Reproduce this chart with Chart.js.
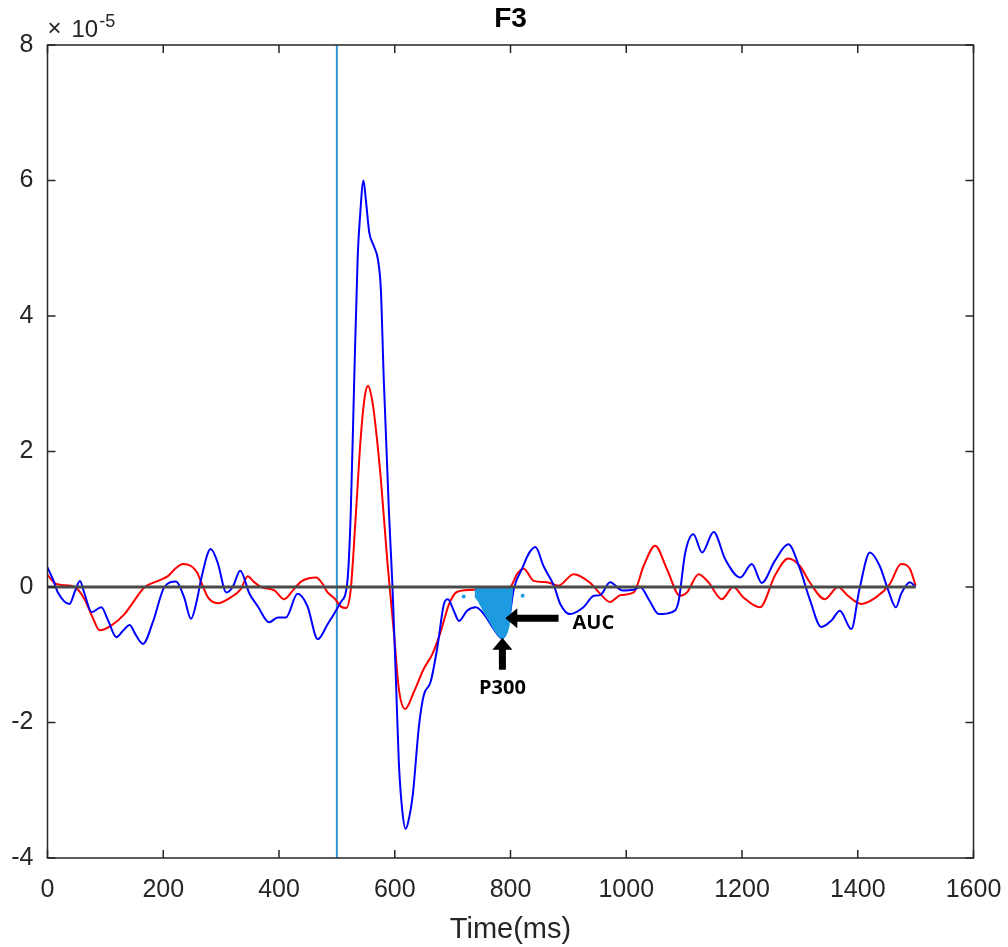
<!DOCTYPE html>
<html>
<head>
<meta charset="utf-8">
<script src="https://cdn.jsdelivr.net/npm/chart.js@4.4.1/dist/chart.umd.min.js"></script>
<style>
  html, body { margin: 0; padding: 0; background: #fff; }
  #wrap { width: 1008px; height: 947px; }
</style>
</head>
<body>
<div id="wrap"><canvas id="erpChart" width="1008" height="947"></canvas></div>
<script>
// ERP at F3, amplitudes in units of 1e-5
var chartTitle = 'F3';
var xTitle = 'Time(ms)';
var yExponent = '-5';
var xTicks = [0, 200, 400, 600, 800, 1000, 1200, 1400, 1600];
var yTicks = [-4, -2, 0, 2, 4, 6, 8];
var stimulusTime = 500;

var redTimes = [0, 12, 24, 47, 64, 78, 90, 110, 133, 150, 168, 191, 208, 222, 234, 248, 258, 268, 277, 294,
  317, 334, 346, 356, 369, 392, 409, 424, 438, 452, 464, 475, 484, 496, 507, 516, 524, 533, 541, 548,
  554, 560, 564, 576, 587, 599, 607, 618, 633, 650, 665, 679, 694, 708, 737, 760, 783, 800, 812, 823,
  840, 863, 883, 909, 938, 955, 972, 990, 1013, 1030, 1050, 1070, 1093, 1105, 1125, 1142, 1165, 1185, 1202, 1231,
  1257, 1280, 1300, 1317, 1343, 1366, 1383, 1406, 1432, 1455, 1475, 1490, 1500];
var redValues = [0.18, 0.06, 0.03, 0.0, -0.18, -0.45, -0.64, -0.57, -0.40, -0.2, 0, 0.09, 0.16, 0.28, 0.34, 0.31, 0.22, 0.02, -0.15, -0.24,
  -0.15, -0.03, 0.16, 0.08, 0, -0.05, -0.18, -0.05, 0.08, 0.13, 0.14, 0.05, -0.08, -0.17, -0.29, -0.31, -0.03, 1.10, 2.18, 2.8,
  2.97, 2.8, 2.58, 1.59, 0.4, -0.72, -1.50, -1.80, -1.55, -1.21, -0.99, -0.67, -0.25, -0.07, -0.04, -0.08, -0.06, 0, 0.2, 0.27,
  0.09, 0.07, 0.02, 0.19, 0.06, -0.10, -0.22, -0.12, -0.08, 0.31, 0.61, 0.27, -0.13, -0.08, 0.19, 0.07, -0.18, 0, -0.15, -0.30,
  0.17, 0.42, 0.31, 0.07, -0.18, 0, -0.13, -0.25, -0.15, 0.04, 0.34, 0.27, 0.02];

var blueTimes = [0, 10, 18, 38, 48, 56, 64, 76, 93, 105, 119, 130, 142, 152, 165, 182, 202, 222, 236, 248,
  258, 266, 282, 294, 309, 320, 333, 349, 363, 383, 398, 412, 432, 449, 467, 484, 495, 507, 518, 524,
  530, 536, 540, 546, 550, 556, 564, 571, 576, 581, 590, 596, 602, 607, 613, 619, 625, 631, 642, 650,
  662, 674, 685, 692, 702, 711, 725, 740, 754, 771, 786, 797, 806, 820, 832, 843, 857, 875, 886, 903,
  926, 944, 955, 972, 993, 1013, 1024, 1040, 1056, 1079, 1090, 1102, 1116, 1131, 1151, 1171, 1197, 1217, 1234, 1257,
  1280, 1300, 1317, 1337, 1355, 1369, 1389, 1403, 1421, 1438, 1452, 1466, 1475, 1490, 1500];
var blueValues = [0.29, 0.1, -0.08, -0.25, -0.05, 0.09, -0.1, -0.37, -0.30, -0.5, -0.74, -0.65, -0.56, -0.7, -0.84, -0.52, 0, 0.08, -0.15, -0.47,
  -0.2, 0.14, 0.56, 0.36, -0.08, 0, 0.24, -0.10, -0.28, -0.52, -0.45, -0.45, -0.10, -0.28, -0.77, -0.55, -0.4, -0.22, 0.07, 1.1,
  3.07, 4.88, 5.47, 6.0, 5.72, 5.23, 5.03, 4.83, 4.39, 3.07, 1.1, 0.02, -1.36, -2.58, -3.3, -3.57, -3.4, -3.08, -2.04, -1.60,
  -1.40, -0.87, -0.25, -0.18, -0.35, -0.50, -0.35, -0.3, -0.4, -0.62, -0.76, -0.5, -0.02, 0.27, 0.5, 0.59, 0.31, 0.02, -0.25, -0.40,
  -0.30, -0.13, -0.12, 0.07, -0.05, -0.04, 0, -0.2, -0.40, -0.37, -0.23, 0.51, 0.78, 0.51, 0.81, 0.41, 0.14, 0.34, 0.06, 0.39,
  0.63, 0.27, -0.18, -0.59, -0.49, -0.35, -0.62, -0.03, 0.51, 0.31, -0.03, -0.30, -0.10, 0.07, 0.0];

// shaded P300 area (AUC)
var aucTimes = [738, 745, 754, 763, 771, 779, 786, 793, 798, 801, 804];
var aucValues = [-0.14, -0.22, -0.37, -0.5, -0.62, -0.72, -0.77, -0.7, -0.55, -0.3, 0];
var aucDotTimes = [719, 821];
var aucDotValues = [-0.14, -0.13];

// annotation anchors (data coords)
var aucArrow = { from: [883, -0.46], to: [791, -0.46], text: 'AUC' };
var p300Arrow = { from: [786, -1.22], to: [786, -0.75], text: 'P300' };

function toPoints(xs, ys) {
  return xs.map(function (x, i) { return { x: x, y: ys[i] }; });
}

var axisColor = '#262626';
var fontFamily = "'Liberation Sans', Arial, Helvetica, sans-serif";

function drawArrow(ctx, x0, y0, x1, y1) {
  var ang = Math.atan2(y1 - y0, x1 - x0);
  var len = Math.hypot(x1 - x0, y1 - y0);
  var headLen = 12, headHalf = 10, shaftHalf = 3.5;
  ctx.save();
  ctx.translate(x0, y0);
  ctx.rotate(ang);
  ctx.fillStyle = '#000';
  ctx.beginPath();
  ctx.moveTo(0, -shaftHalf);
  ctx.lineTo(len - headLen, -shaftHalf);
  ctx.lineTo(len - headLen, -headHalf);
  ctx.lineTo(len, 0);
  ctx.lineTo(len - headLen, headHalf);
  ctx.lineTo(len - headLen, shaftHalf);
  ctx.lineTo(0, shaftHalf);
  ctx.closePath();
  ctx.fill();
  ctx.restore();
}

var matlabAxes = {
  id: 'matlabAxes',
  afterDraw: function (chart) {
    var ctx = chart.ctx;
    var a = chart.chartArea;
    var xs = chart.scales.x, ys = chart.scales.y;
    ctx.save();
    // box
    ctx.strokeStyle = axisColor;
    ctx.lineWidth = 1.5;
    ctx.strokeRect(a.left, a.top, a.right - a.left, a.bottom - a.top);
    // inward ticks on all four sides
    var tl = 8;
    ctx.beginPath();
    xTicks.forEach(function (t) {
      var px = xs.getPixelForValue(t);
      ctx.moveTo(px, a.bottom); ctx.lineTo(px, a.bottom - tl);
      ctx.moveTo(px, a.top); ctx.lineTo(px, a.top + tl);
    });
    yTicks.forEach(function (t) {
      var py = ys.getPixelForValue(t);
      ctx.moveTo(a.left, py); ctx.lineTo(a.left + tl, py);
      ctx.moveTo(a.right, py); ctx.lineTo(a.right - tl, py);
    });
    ctx.stroke();

    // title
    ctx.fillStyle = '#000';
    ctx.font = 'bold 28px ' + fontFamily;
    ctx.textAlign = 'center';
    ctx.textBaseline = 'middle';
    ctx.fillText(chartTitle, (a.left + a.right) / 2, 19);

    // exponent label
    ctx.fillStyle = axisColor;
    ctx.textAlign = 'left';
    ctx.textBaseline = 'alphabetic';
    ctx.font = '24px ' + fontFamily;
    ctx.fillText('\u00d7', a.left, 36);
    ctx.fillText('10', a.left + 24, 37);
    var w = ctx.measureText('10').width;
    ctx.font = '18px ' + fontFamily;
    ctx.fillText(yExponent, a.left + 24 + w + 1, 27);

    // arrows + labels
    [aucArrow, p300Arrow].forEach(function (ar) {
      drawArrow(ctx, xs.getPixelForValue(ar.from[0]), ys.getPixelForValue(ar.from[1]),
        xs.getPixelForValue(ar.to[0]), ys.getPixelForValue(ar.to[1]));
    });
    ctx.fillStyle = '#000';
    ctx.font = 'bold 20px "Open Sans", ' + fontFamily;
    ctx.textBaseline = 'middle';
    ctx.textAlign = 'left';
    ctx.fillText(aucArrow.text, xs.getPixelForValue(aucArrow.from[0]) + 14, ys.getPixelForValue(aucArrow.from[1]) + 5);
    ctx.textAlign = 'center';
    ctx.fillText(p300Arrow.text, xs.getPixelForValue(p300Arrow.from[0]), ys.getPixelForValue(p300Arrow.from[1]) + 19);
    ctx.restore();
  }
};

function plainTick(value) { return String(value); }

var ctx = document.getElementById('erpChart').getContext('2d');
var erpChart = new Chart(ctx, {
  type: 'line',
  data: {
    datasets: [
      {
        label: 'zero',
        data: toPoints([0, 1500], [0, 0]),
        borderColor: '#4a4a4a',
        borderWidth: 3,
        pointRadius: 0,
        order: 0
      },
      {
        label: 'AUC',
        data: toPoints(aucTimes, aucValues),
        borderColor: '#1e9be0',
        backgroundColor: '#1e9be0',
        borderWidth: 1,
        pointRadius: 0,
        fill: 'origin',
        tension: 0.3,
        order: 1
      },
      {
        label: 'AUC dots',
        data: toPoints(aucDotTimes, aucDotValues),
        showLine: false,
        pointRadius: 2,
        pointBackgroundColor: '#1e9be0',
        pointBorderWidth: 0,
        order: 1
      },
      {
        label: 'blue',
        data: toPoints(blueTimes, blueValues),
        borderColor: '#0000ff',
        borderWidth: 2,
        pointRadius: 0,
        cubicInterpolationMode: 'monotone',
        order: 2
      },
      {
        label: 'red',
        data: toPoints(redTimes, redValues),
        borderColor: '#ff0000',
        borderWidth: 2,
        pointRadius: 0,
        cubicInterpolationMode: 'monotone',
        order: 3
      },
      {
        label: 'stimulus',
        data: toPoints([stimulusTime, stimulusTime], [yTicks[0], yTicks[yTicks.length - 1]]),
        borderColor: '#2f97d7',
        borderWidth: 2,
        pointRadius: 0,
        order: 4
      }
    ]
  },
  options: {
    responsive: false,
    animation: false,
    events: [],
    layout: { padding: { top: 45, right: 34.5, left: 0, bottom: 0 } },
    plugins: {
      legend: { display: false },
      tooltip: { enabled: false },
      title: { display: false }
    },
    scales: {
      x: {
        type: 'linear',
        min: 0,
        max: 1600,
        grid: { display: false, drawTicks: false },
        border: { display: false },
        afterFit: function (scale) {
          scale.height = 89;
          scale.paddingLeft = 0;
          scale.paddingRight = 0;
        },
        afterBuildTicks: function (scale) {
          scale.ticks = xTicks.map(function (v) { return { value: v }; });
        },
        ticks: {
          padding: 17,
          maxRotation: 0,
          color: axisColor,
          callback: plainTick,
          font: { family: fontFamily, size: 25 }
        },
        title: {
          display: true,
          text: xTitle,
          color: axisColor,
          padding: 0,
          font: { family: fontFamily, size: 29 }
        }
      },
      y: {
        type: 'linear',
        min: -4,
        max: 8,
        grid: { display: false, drawTicks: false },
        border: { display: false },
        afterFit: function (scale) {
          scale.width = 47.5;
          scale.paddingTop = 0;
          scale.paddingBottom = 0;
        },
        afterBuildTicks: function (scale) {
          scale.ticks = yTicks.map(function (v) { return { value: v }; });
        },
        ticks: {
          padding: 14,
          color: axisColor,
          callback: plainTick,
          font: { family: fontFamily, size: 25 }
        }
      }
    }
  },
  plugins: [matlabAxes]
});
</script>
</body>
</html>
